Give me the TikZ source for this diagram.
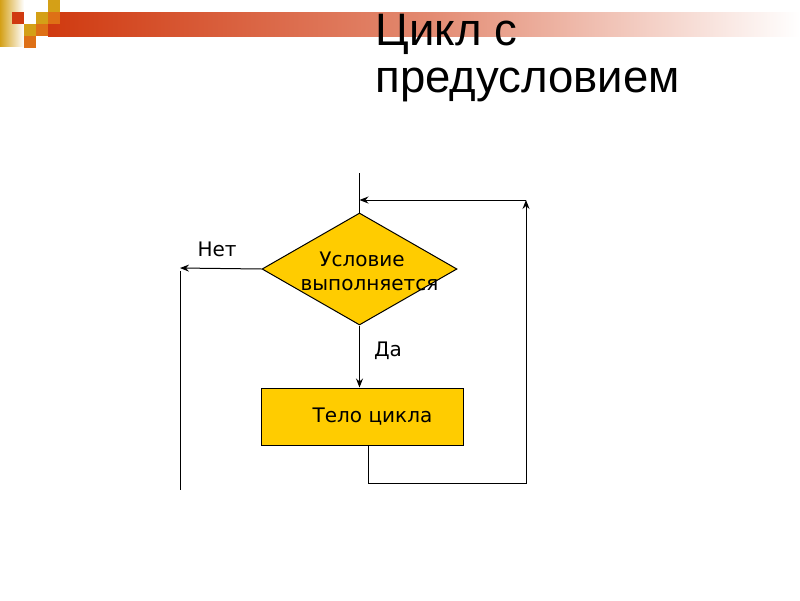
\documentclass[tikz,border=0pt]{standalone}
\usepackage{fontspec}
\setmainfont{Liberation Sans}
\newfontfamily\dejavu{DejaVu Sans}
\usetikzlibrary{arrows.meta}
\usetikzlibrary{shapes.geometric}
\usetikzlibrary{positioning}
\definecolor{gold}{RGB}{255,204,0}
\definecolor{barred}{RGB}{208,58,16}
\definecolor{sqgold}{RGB}{212,160,23}
\definecolor{sqorange}{RGB}{222,112,22}

\begin{document}
\begin{tikzpicture} [x=1pt, y=-1pt, >={Stealth[length=9pt, width=7pt, inset=3pt]}, line width=1pt,
  cond/.style={diamond, draw, fill=gold, aspect=1.74, inner sep=0pt, minimum width=195pt, minimum height=112pt},
  condtext/.style={align=center, inner sep=0pt, font=\dejavu\fontsize{20}{24}\selectfont},
  body/.style={rectangle, draw, fill=gold, minimum width=202pt, minimum height=57pt, font=\dejavu\fontsize{20}{24}\selectfont},
  lbl/.style={font=\dejavu\fontsize{20}{24}\selectfont, inner sep=0pt},
  ttl/.style={anchor=base west, inner sep=0pt, font=\fontsize{45.5}{48}\selectfont}]
\useasboundingbox (0,0) rectangle (800,600);
% header
\shade[left color=barred, right color=white, middle color=barred!60] (48,12) rectangle (800,36);
\shade[left color=sqgold, right color=white] (0,0) rectangle (24,46);
\fill[barred] (12,12) rectangle (24,24);
\fill[sqgold] (48,0) rectangle (60,12);
\fill[sqgold] (36,12) rectangle (48,24);
\fill[sqorange] (48,12) rectangle (60,24);
\fill[sqgold] (24,24) rectangle (36,36);
\fill[sqorange] (36,24) rectangle (48,36);
\fill[sqorange] (24,36) rectangle (36,48);
\node[ttl] (title) at (375,45) {Цикл с};
\node[ttl] (subtitle) at (375,92) {предусловием};
% flowchart
\node[cond, label={[condtext, xshift=10pt, yshift=-2pt]center:{Условие\hspace*{15pt}\\выполняется}}] (test) at (359.5,269) {};
\node[body] (loop) at (362.5,416.5) {\hspace*{20pt}Тело цикла};
\node[lbl] (no) at (217,249) {Нет};
\node[lbl] (yes) at (388,351) {Да};
\coordinate (entry) at (test.north |- 0,173);
\coordinate (loopin) at (test.north |- 0,200);
\coordinate (loopup) at (526,200);
\coordinate (loopdown) at (526,483);
\coordinate (noend) at (180,268);
\coordinate (nobottom) at (180,490);
\draw (entry) -- (test.north);
\draw[->] (test.west) -- (noend);
\draw ([yshift=-3pt]noend) -- (nobottom);
\draw[->] (test.south) -- (test.south |- loop.north);
\draw[->] ([xshift=5.5pt]loop.south) |- (loopdown) -- (loopup);
\draw[->] (loopup) -- (loopin);
\end{tikzpicture}
\end{document}
